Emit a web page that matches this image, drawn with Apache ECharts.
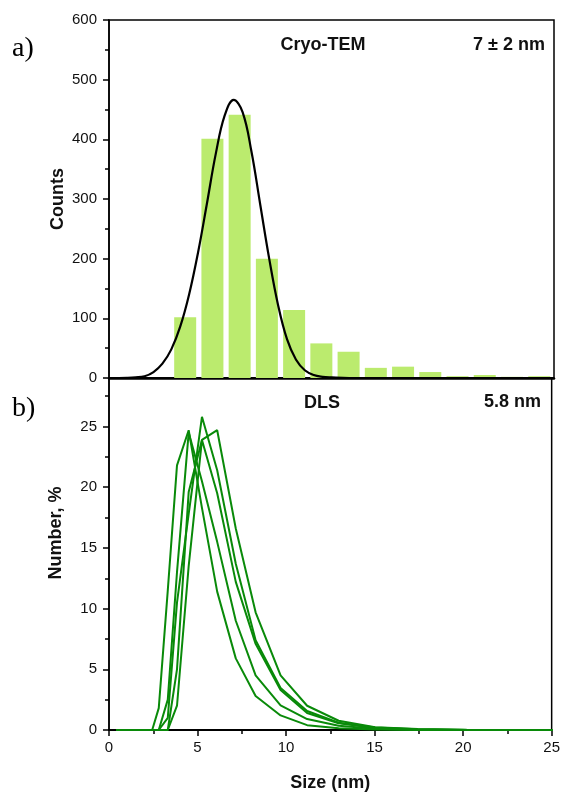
<!DOCTYPE html>
<html>
<head>
<meta charset="utf-8">
<script src="https://cdn.jsdelivr.net/npm/echarts@6/dist/echarts.min.js"></script>
<style>
  html, body { margin: 0; padding: 0; background: #fff; }
  #chart { width: 563px; height: 793px; }
</style>
</head>
<body>
<div id="chart"></div>
<script>
// Cryo-TEM histogram: bin centres (nm) and counts
const binCenters = [4.28, 5.81, 7.34, 8.87, 10.40, 11.93, 13.46, 14.99, 16.52, 18.05, 19.58, 21.11, 22.64, 24.17];
const binCounts  = [102, 401, 441, 200, 114, 58, 44, 17, 19, 10, 3, 5, 2, 3];

// Gaussian fit drawn over the histogram (size nm, counts)
const fitSize   = [0, 1.0, 1.5, 2.0, 2.5, 3.0, 3.5, 4.0, 4.5, 5.0, 5.5, 6.0, 6.5, 7.0, 7.5, 8.0, 8.5, 9.0, 9.5, 10.0, 10.5, 11.0, 11.5, 12.0, 12.5, 13.5, 25];
const fitCounts = [0, 0.3, 1, 3, 10, 24, 48, 86, 140, 210, 292, 376, 440, 466, 446, 380, 290, 200, 122, 65, 31, 13, 5, 2, 1, 0, 0];

// DLS number distributions, five repeat runs on the same size bins (nm)
const dlsSize = [0.40, 2.44, 2.81, 3.32, 3.84, 4.50, 5.25, 6.11, 7.16, 8.28, 9.69, 11.19, 12.97, 15.03, 17.43, 20.20, 23.40, 27.10];
const run1 = [0, 0, 1.8, 11.5, 21.8, 24.7, 18.3, 11.4, 5.9, 2.8, 1.2, 0.4, 0.15, 0.05, 0, 0, 0, 0];
const run2 = [0, 0, 0, 1.0, 10.5, 17.8, 25.8, 21.4, 13.7, 7.4, 3.46, 1.57, 0.6, 0.2, 0.06, 0, 0, 0];
const run3 = [0, 0, 0, 0, 5.0, 19.6, 23.9, 24.7, 16.6, 9.7, 4.5, 2.0, 0.76, 0.22, 0.08, 0.02, 0, 0];
const run4 = [0, 0, 0, 0, 2.0, 13.5, 23.9, 19.5, 12.2, 7.1, 3.3, 1.4, 0.55, 0.17, 0.05, 0.01, 0, 0];
const run5 = [0, 0, 0, 2.5, 13.0, 24.5, 20.5, 15.5, 9.0, 4.5, 2.03, 0.9, 0.35, 0.1, 0.03, 0, 0, 0];
const dlsRuns = [run1, run2, run3, run4, run5];

// Axis ticks
const sizeTicks = [0, 5, 10, 15, 20, 25];
const countTicks = [0, 100, 200, 300, 400, 500, 600];
const numberTicks = [0, 5, 10, 15, 20, 25];

const pairs = (xs, ys) => xs.map((x, i) => [x, ys[i]]);

const FONT = '"Liberation Sans", Arial, sans-serif';
const INK = '#111';
const LEFT = 109, RIGHT = 9;

const tickLabel = { color: INK, fontFamily: FONT, fontSize: 15 };

const chart = echarts.init(document.getElementById('chart'), null, { renderer: 'canvas' });

chart.setOption({
  backgroundColor: '#fff',
  animation: false,
  grid: [
    { left: LEFT, right: RIGHT, top: 20, height: 358, show: true, borderColor: '#000', borderWidth: 1.5, backgroundColor: 'transparent' },
    { left: LEFT, right: RIGHT, top: 378, height: 359, show: true, borderColor: '#000', borderWidth: 1.5, backgroundColor: 'transparent' }
  ],
  xAxis: [
    {
      gridIndex: 0, type: 'value', min: sizeTicks[0], max: sizeTicks[sizeTicks.length - 1], interval: 5,
      axisLine: { show: true, onZero: false, lineStyle: { color: '#000', width: 2.5 } },
      axisTick: { show: false }, axisLabel: { show: false }, splitLine: { show: false }
    },
    {
      gridIndex: 1, type: 'value', min: sizeTicks[0], max: sizeTicks[sizeTicks.length - 1], interval: 5,
      name: 'Size (nm)', nameLocation: 'middle', nameGap: 44,
      nameTextStyle: { color: INK, fontFamily: FONT, fontSize: 18, fontWeight: 'bold' },
      axisLine: { show: true, onZero: false, lineStyle: { color: '#000', width: 2 } },
      axisTick: { show: true, inside: false, length: 6, lineStyle: { color: '#000', width: 1.5 } },
      minorTick: { show: true, splitNumber: 2, length: 4, lineStyle: { color: '#000', width: 1.5 } },
      axisLabel: Object.assign({ margin: 10 }, tickLabel),
      splitLine: { show: false }
    }
  ],
  yAxis: [
    {
      gridIndex: 0, type: 'value', min: countTicks[0], max: countTicks[countTicks.length - 1], interval: 100,
      axisLine: { show: true, onZero: false, lineStyle: { color: '#000', width: 1.5 } },
      axisTick: { show: true, inside: false, length: 6, lineStyle: { color: '#000', width: 1.5 } },
      minorTick: { show: true, splitNumber: 2, length: 4, lineStyle: { color: '#000', width: 1.5 } },
      axisLabel: Object.assign({ margin: 12 }, tickLabel),
      splitLine: { show: false }
    },
    {
      gridIndex: 1, type: 'value', min: numberTicks[0], max: 29, interval: 5,
      axisLine: { show: true, onZero: false, lineStyle: { color: '#000', width: 1.5 } },
      axisTick: { show: true, inside: false, length: 6, lineStyle: { color: '#000', width: 1.5 } },
      minorTick: { show: true, splitNumber: 2, length: 4, lineStyle: { color: '#000', width: 1.5 } },
      axisLabel: Object.assign({ margin: 12, showMaxLabel: false }, tickLabel),
      splitLine: { show: false }
    }
  ],
  graphic: [
    { type: 'text', left: 12, top: 35, style: { text: 'a)', fill: '#000', font: '28px "Liberation Serif", "Times New Roman", serif' } },
    { type: 'text', left: 12, top: 395, style: { text: 'b)', fill: '#000', font: '28px "Liberation Serif", "Times New Roman", serif' } },
    { type: 'text', x: 58, y: 199, rotation: Math.PI / 2,
      style: { text: 'Counts', fill: INK, font: 'bold 18px ' + FONT, textAlign: 'center', textVerticalAlign: 'middle' } },
    { type: 'text', x: 56, y: 533, rotation: Math.PI / 2,
      style: { text: 'Number, %', fill: INK, font: 'bold 18px ' + FONT, textAlign: 'center', textVerticalAlign: 'middle' } },
    { type: 'text', x: 323, y: 45,
      style: { text: 'Cryo-TEM', fill: INK, font: 'bold 18px ' + FONT, textAlign: 'center', textVerticalAlign: 'middle' } },
    { type: 'text', x: 545, y: 45,
      style: { text: '7 ± 2 nm', fill: INK, font: 'bold 18px ' + FONT, textAlign: 'right', textVerticalAlign: 'middle' } },
    { type: 'text', x: 322, y: 403,
      style: { text: 'DLS', fill: INK, font: 'bold 18px ' + FONT, textAlign: 'center', textVerticalAlign: 'middle' } },
    { type: 'text', x: 541, y: 402,
      style: { text: '5.8 nm', fill: INK, font: 'bold 18px ' + FONT, textAlign: 'right', textVerticalAlign: 'middle' } }
  ],
  series: [
    {
      type: 'bar', xAxisIndex: 0, yAxisIndex: 0,
      data: pairs(binCenters, binCounts),
      barWidth: 22,
      itemStyle: { color: '#bbeb6e' },
      z: 1
    },
    {
      type: 'line', xAxisIndex: 0, yAxisIndex: 0,
      data: pairs(fitSize, fitCounts),
      smooth: 0.4, showSymbol: false, symbol: 'none',
      lineStyle: { color: '#000', width: 2.2 },
      z: 3
    }
  ].concat(dlsRuns.map(run => ({
    type: 'line', xAxisIndex: 1, yAxisIndex: 1,
    data: pairs(dlsSize, run),
    showSymbol: false, symbol: 'none', clip: true,
    lineStyle: { color: '#098a09', width: 2 },
    z: 3
  })))
});
</script>
</body>
</html>
